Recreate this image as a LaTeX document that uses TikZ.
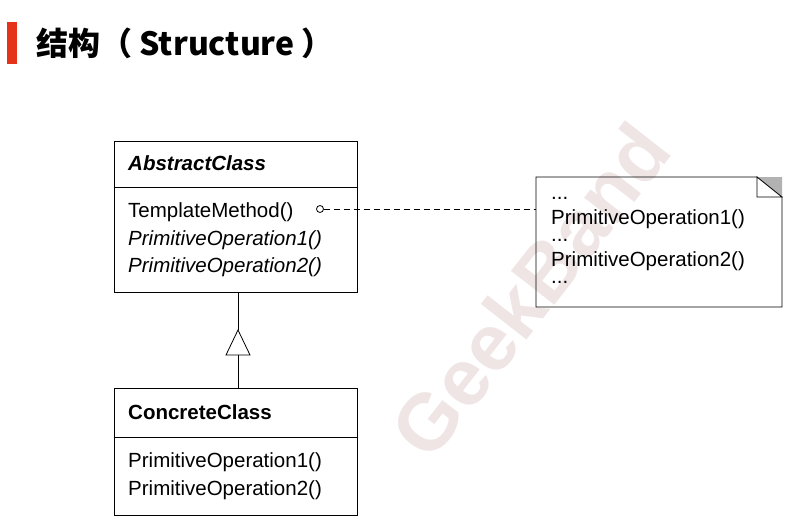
\documentclass[tikz,border=0pt]{standalone}
\usepackage{fontspec}
\setmainfont{Liberation Sans}
\newfontfamily\cjk{Noto Sans CJK SC}
\begin{document}
\begin{tikzpicture}[x=1pt,y=-1pt,
  box/.style={draw=black,line width=0.8pt},
  txt/.style={anchor=west,inner sep=0pt,font=\fontsize{20.5}{22}\selectfont}]
\useasboundingbox (0,0) rectangle (793,527);
\fill[white] (0,0) rectangle (793,527);
% watermark
\node[rotate=52,text=red!40!black!18!white,font=\fontsize{80}{80}\selectfont\bfseries,opacity=0.55] (wm) at (530,290) {GeekBand};
% title
\fill[red!60!brown] (7,22) rectangle (17,64);
\node[anchor=west,inner sep=0pt,font=\cjk\bfseries\fontsize{32}{36}\selectfont] (title) at (36,43) {结构（ Structure ）};
% abstract class
\draw[box] (114,141) rectangle (357,292);
\draw[box] (114,187) -- (357,187);
\node[txt,font=\fontsize{20.5}{22}\selectfont\bfseries\itshape] (ac) at (128,163) {AbstractClass};
\node[txt] (tm) at (128,212) {TemplateMethod()};
\node[txt,font=\fontsize{20.5}{22}\selectfont\itshape] (p1) at (128,240) {PrimitiveOperation1()};
\node[txt,font=\fontsize{20.5}{22}\selectfont\itshape] (p2) at (128,267) {PrimitiveOperation2()};
% note
\draw[box] (536,177) -- (757,177) -- (782,197) -- (782,307) -- (536,307) -- cycle;
\fill[gray!60] (757,177) -- (782,177) -- (782,197) -- cycle;
\draw[box,fill=white] (757,177) -- (757,197) -- (782,197) -- cycle;
\node[txt] (n0) at (551,198) {...};
\node[txt] (n1) at (551,219) {PrimitiveOperation1()};
\node[txt] (n2) at (551,240) {...};
\node[txt] (n3) at (551,261) {PrimitiveOperation2()};
\node[txt] (n4) at (551,282) {...};
\coordinate (c) at (320,209);
\draw[box] (c) circle (3.5);
\draw[box,dashed,dash pattern=on 6pt off 4pt] (323.5,209) -- (536,209);
% inheritance
\draw[box,fill=white] (238,330) -- (226,355) -- (250,355) -- cycle;
\draw[box] (238,292) -- (238,330);
\draw[box] (238,355) -- (238,388);
% concrete class
\draw[box] (114,388) rectangle (357,515);
\draw[box] (114,437) -- (357,437);
\node[txt,font=\fontsize{20.5}{22}\selectfont\bfseries] (cc) at (128,412) {ConcreteClass};
\node[txt] (c1) at (128,462) {PrimitiveOperation1()};
\node[txt] (c2) at (128,490) {PrimitiveOperation2()};
\end{tikzpicture}
\end{document}
